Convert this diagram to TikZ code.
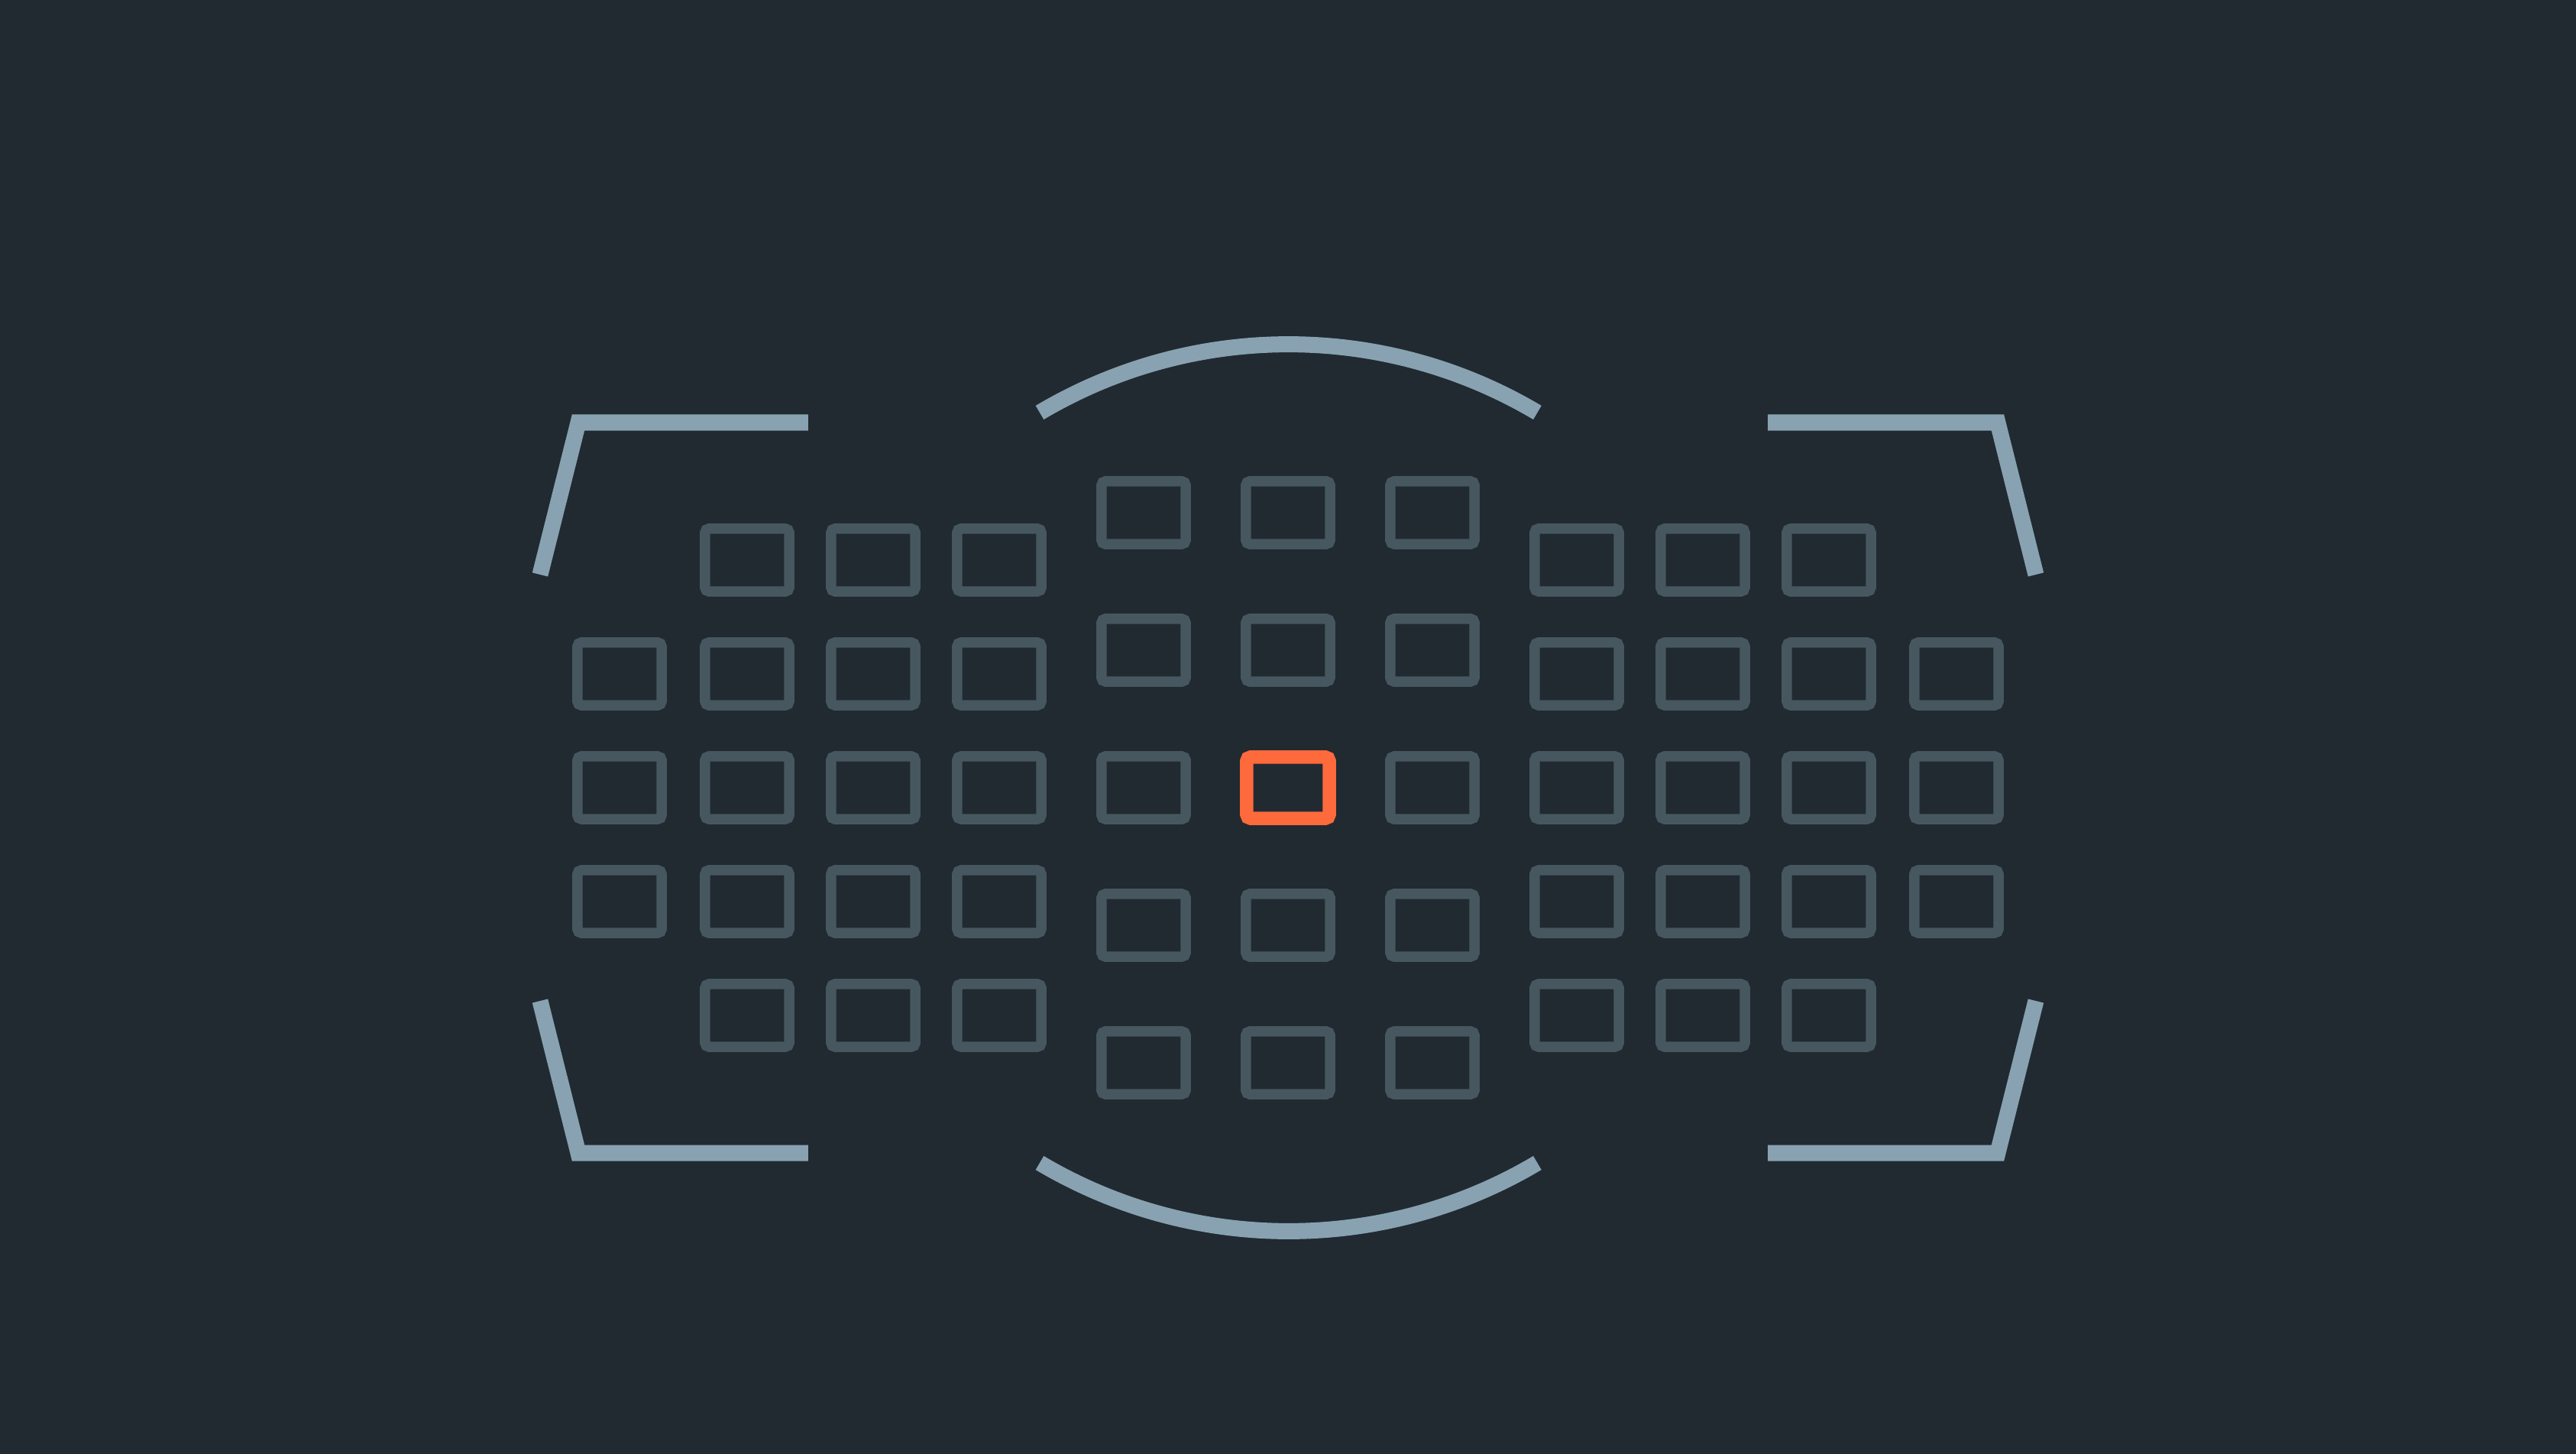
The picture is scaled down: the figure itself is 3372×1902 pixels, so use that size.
\documentclass[tikz,border=0pt]{standalone}
\usetikzlibrary{positioning}
\definecolor{bgdark}{HTML}{212A31}
\definecolor{framegray}{HTML}{88A2B2}
\definecolor{afgray}{HTML}{46575F}
\definecolor{aforange}{HTML}{FF6A3D}
\begin{document}
\begin{tikzpicture}[x=0.01cm, y=0.01cm,
    afpoint/.style={draw=afgray, line width=0.135cm, rounded corners=0.05cm,
      minimum width=1.10cm, minimum height=0.82cm, inner sep=0pt},
    afactive/.style={afpoint, draw=aforange, line width=0.175cm,
      minimum width=1.08cm, minimum height=0.80cm},
    frame/.style={draw=framegray, line width=0.21cm, line join=miter}]
  % background
  \useasboundingbox (-1686,-871) rectangle (1686,1031);
  \fill[bgdark] (-1700,-885) rectangle (1700,1045);

  % frame corners
  \draw[frame] (-628,478) -- (-929,478) -- (-979,279);
  \draw[frame] (-979,-279) -- (-929,-478) -- (-628,-478);
  \draw[frame] (628,478) -- (929,478) -- (979,279);
  \draw[frame] (979,-279) -- (929,-478) -- (628,-478);

  % arcs
  \draw[frame] (-325,491) arc[start angle=120.7, end angle=59.3, radius=638];
  \draw[frame] (-325,-491) arc[start angle=-120.7, end angle=-59.3, radius=638];

  % left group
  \foreach \y/\r in {149/2, 0/3, -149/4}
    \node[afpoint] (la\r) at (-875,\y) {};
  \foreach \x/\c in {-708/b, -543/c, -378/d}
    \foreach \y/\r in {298/1, 149/2, 0/3, -149/4, -298/5}
      \node[afpoint] (l\c\r) at (\x,\y) {};

  % right group
  \foreach \y/\r in {149/2, 0/3, -149/4}
    \node[afpoint] (ra\r) at (875,\y) {};
  \foreach \x/\c in {708/b, 543/c, 378/d}
    \foreach \y/\r in {298/1, 149/2, 0/3, -149/4, -298/5}
      \node[afpoint] (r\c\r) at (\x,\y) {};

  % middle group
  \foreach \x/\c in {-189/a, 189/c}
    \foreach \y/\r in {360/1, 180/2, 0/3, -180/4, -360/5}
      \node[afpoint] (m\c\r) at (\x,\y) {};
  \foreach \y/\r in {360/1, 180/2, -180/4, -360/5}
    \node[afpoint] (mb\r) at (0,\y) {};
  \node[afactive] (mb3) at (0,0) {};
\end{tikzpicture}
\end{document}
